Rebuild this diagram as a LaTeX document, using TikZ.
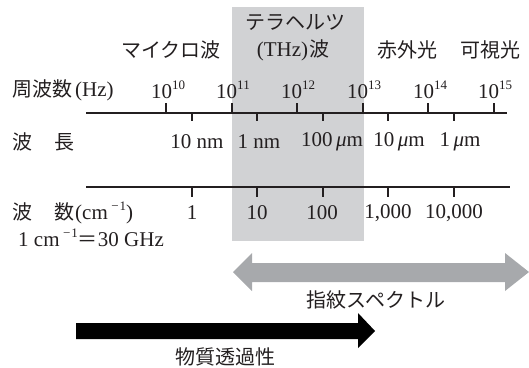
\documentclass[tikz,border=0pt]{standalone}
\usepackage{fontspec}
\setmainfont{Liberation Serif}
\newfontfamily\cjk{Noto Sans CJK JP}
\newcommand\mysup[1]{\raisebox{0.42em}{\fontsize{13}{13}\selectfont #1}}
\newcommand\mymu{\textit{μ}}
\newcommand\lt[1]{{\rmfamily\fontsize{21}{21}\selectfont #1}}
\definecolor{band}{HTML}{D1D2D4}
\definecolor{garrow}{HTML}{A7A9AC}
\definecolor{txt}{HTML}{231F20}
\begin{document}
\begin{tikzpicture}[x=1pt,y=-1pt,
  lat/.style={inner sep=0pt, text=txt, font=\fontsize{21}{21}\selectfont},
  jp/.style={inner sep=0pt, text=txt, font=\cjk\fontsize{20}{20}\selectfont},
  axis/.style={line width=1.4pt, draw=txt},
  tick/.style={line width=1.3pt, draw=txt}]
\useasboundingbox (0,0) rectangle (529,367);
% THz band
\fill[band] (232,7) rectangle (364,241);
% top labels
\node[jp] (thz1) at (295,22) {テラヘルツ};
\node[jp] (thz2) at (293,50) {\lt{(THz)}\kern1pt 波};
\node[jp] (micro) at (171,50) {マイクロ波};
\node[jp] (ir) at (407,50) {赤外光};
\node[jp] (vis) at (490,50) {可視光};
% frequency row
\node[jp, anchor=west] (freq) at (12,90) {周波数\kern3pt\lt{(Hz)}};
\foreach \i/\x in {10/168,11/233,12/298,13/364,14/430,15/495}{
  \node[lat] (f\i) at (\x,90) {10\mysup{\i}};
}
\coordinate (a1l) at (86,113);
\coordinate (a1r) at (507,113);
\draw[axis] (a1l) -- (a1r);
\foreach \x in {166,232,297,363,428,494}{ \draw[tick] (\x,103) -- (\x,113); }
\foreach \x in {192,257,323,388,454}{ \draw[tick] (\x,113) -- (\x,121); }
% wavelength row
\node[jp, anchor=west] (wl) at (12,142) {波\hspace{22pt}長};
\node[lat] (w1) at (197,142) {10 nm};
\node[lat] (w2) at (259,142) {1 nm};
\node[lat] (w3) at (332,142) {100\,\mymu m};
\node[lat] (w4) at (399,142) {10\,\mymu m};
\node[lat] (w5) at (460,142) {1\,\mymu m};
% second axis
\coordinate (a2l) at (86,187);
\coordinate (a2r) at (510,187);
\draw[axis] (a2l) -- (a2r);
\foreach \x in {192,257,323,388,454}{ \draw[tick] (\x,187) -- (\x,197); }
% wavenumber row
\node[jp, anchor=west] (wn) at (12,213) {波\hspace{22pt}数\kern1pt\lt{(cm\,\mysup{−\kern1pt 1})}};
\node[lat] (n1) at (192,213) {1};
\node[lat] (n2) at (257,213) {10};
\node[lat] (n3) at (322,213) {100};
\node[lat] (n4) at (388,213) {1,000};
\node[lat] (n5) at (454,213) {10,000};
\node[lat, anchor=west] (conv) at (18,238) {1 cm\,\mysup{−\kern1pt 1}{\cjk\fontsize{20}{20}\selectfont ＝}30 GHz};
% fingerprint double arrow
\fill[garrow] (233,272) -- (252,253) -- (252,263) -- (505,263) -- (505,253)
  -- (529,272) -- (505,291) -- (505,282) -- (252,282) -- (252,291) -- cycle;
\node[jp] (fp) at (376,300) {指紋スペクトル};
% transmission arrow
\fill[black] (76,323) -- (358,323) -- (358,313) -- (375,331) -- (358,348)
  -- (358,339) -- (76,339) -- cycle;
\node[jp] (tr) at (225,357) {物質透過性};
\end{tikzpicture}
\end{document}
